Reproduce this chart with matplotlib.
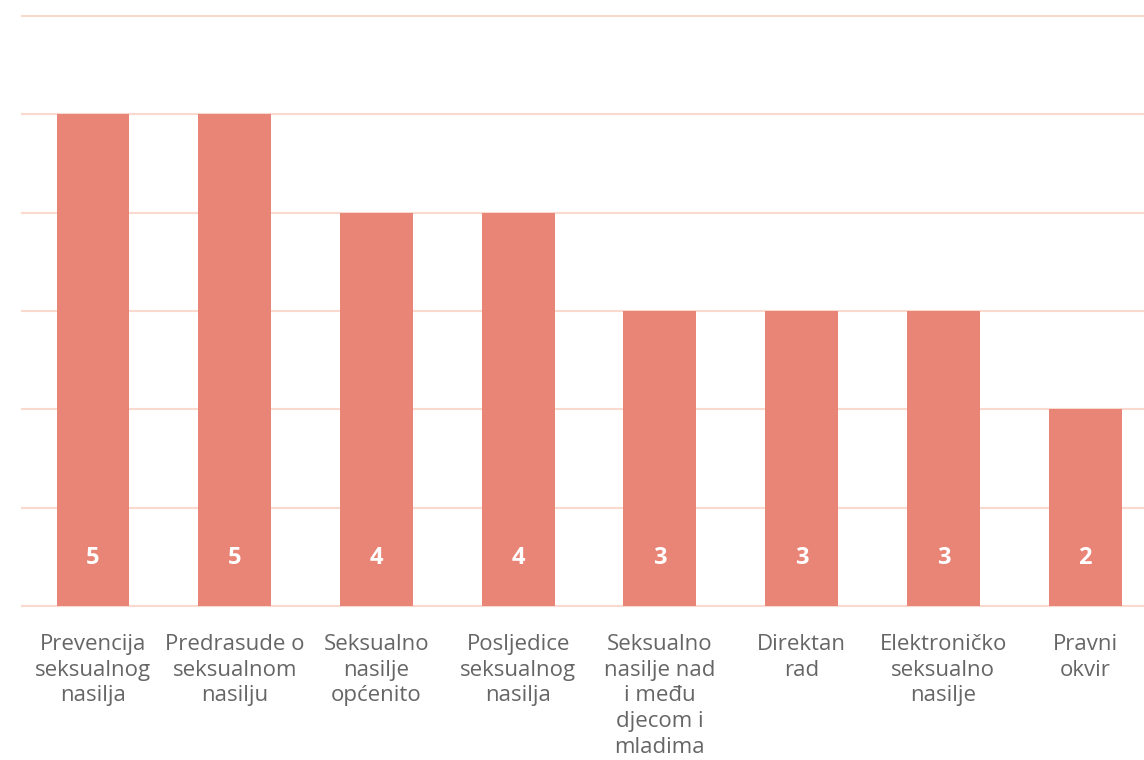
import matplotlib.pyplot as plt
import numpy as np

plt.rcParams['font.family'] = ['Open Sans', 'DejaVu Sans']

categories = ["Prevencija\nseksualnog\nnasilja", "Predrasude o\nseksualnom\nnasilju",
              "Seksualno\nnasilje\nopćenito", "Posljedice\nseksualnog\nnasilja",
              "Seksualno\nnasilje nad\ni među\ndjecom i\nmladima", "Direktan\nrad",
              "Elektroničko\nseksualno\nnasilje", "Pravni\nokvir"]
values = [5, 5, 4, 4, 3, 3, 3, 2]

bar_color = "#E98577"
grid_color = "#FAD9CF"
text_color = "#666666"

fig = plt.figure(figsize=(11.44, 7.6), dpi=100)
ax = fig.add_axes([22 / 1144, 1 - 606 / 760, 1 - 22 / 1144, 590 / 760])

x = np.arange(len(values))
bars = ax.bar(x, values, width=0.515, color=bar_color, zorder=2)

# value labels inside the bars, near the base
for xi, v in zip(x, values):
    ax.text(xi, 0.49, str(v), ha='center', va='center', color='white',
            fontsize=17, fontweight='bold', zorder=3)

ax.set_xlim(-0.501, 7.416)
ax.set_ylim(0, 6)
ax.set_yticks(range(0, 7))
ax.yaxis.grid(True, color=grid_color, linewidth=1.5, zorder=0)
for gl in ax.get_ygridlines():
    gl.set_clip_on(False)
ax.tick_params(axis='y', left=False, labelleft=False)
ax.tick_params(axis='x', length=0, pad=20)
ax.set_xticks(x)
ax.set_xticklabels(categories, fontsize=16, color=text_color, linespacing=1.3, va='top')
for s in ax.spines.values():
    s.set_visible(False)
ax.set_axisbelow(True)

fig.savefig("out.png", dpi=100)
